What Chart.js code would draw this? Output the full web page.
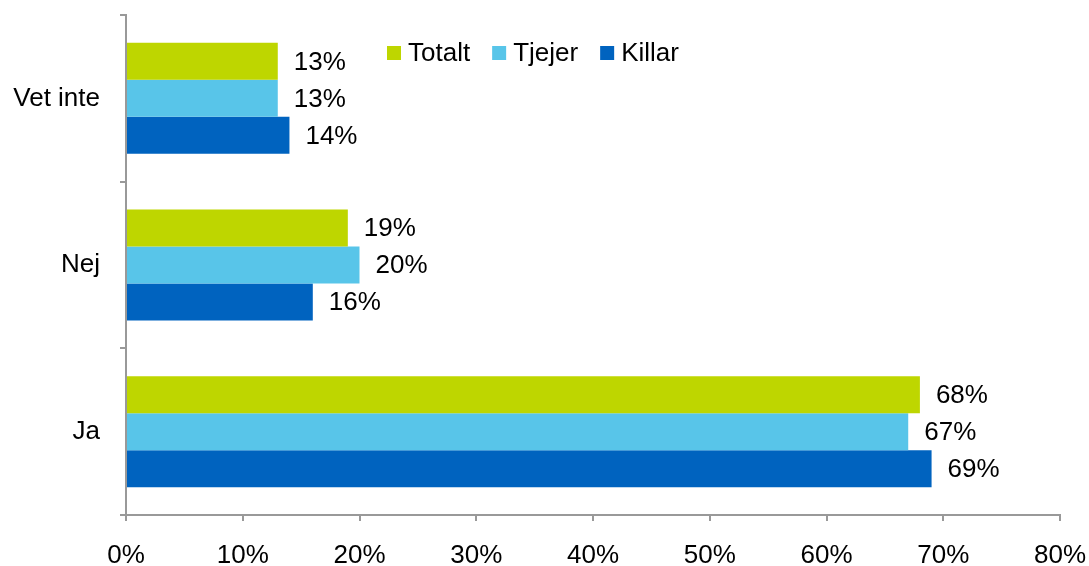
<!DOCTYPE html>
<html>
<head>
<meta charset="utf-8">
<script src="https://cdn.jsdelivr.net/npm/chart.js@4/dist/chart.umd.min.js"></script>
<style>
  html, body { margin: 0; padding: 0; background: #fff; }
  #wrap { width: 1089px; height: 566px; }
</style>
</head>
<body>
<div id="wrap"><canvas id="chart"></canvas></div>
<script>
const categories = ["Vet inte", "Nej", "Ja"];
const totalt = [13, 19, 68];
const tjejer = [13, 20, 67];
const killar = [14, 16, 69];
const xTicks = [0, 10, 20, 30, 40, 50, 60, 70, 80];

const FONT = "'Liberation Sans', Arial, sans-serif";
const axisColor = "#999999";

// value labels to the right of each bar
const valueLabels = {
  id: "valueLabels",
  afterDatasetsDraw(chart) {
    const ctx = chart.ctx;
    ctx.save();
    ctx.font = "26px " + FONT;
    ctx.fillStyle = "#000";
    ctx.textAlign = "left";
    ctx.textBaseline = "middle";
    chart.data.datasets.forEach((ds, i) => {
      chart.getDatasetMeta(i).data.forEach((bar, j) => {
        ctx.fillText(ds.data[j] + "%", bar.x + 16, bar.y + 1);
      });
    });
    ctx.restore();
  }
};

// legend drawn inside the plot area, like the original
const insideLegend = {
  id: "insideLegend",
  afterDraw(chart) {
    const ctx = chart.ctx;
    ctx.save();
    ctx.font = "26px " + FONT;
    ctx.textBaseline = "middle";
    ctx.textAlign = "left";
    let x = 387;
    const y = 53;
    chart.data.datasets.forEach(ds => {
      ctx.fillStyle = ds.backgroundColor;
      ctx.fillRect(x, y - 7, 14, 14);
      ctx.fillStyle = "#000";
      ctx.fillText(ds.label, x + 21, y + 1);
      x += 21 + ctx.measureText(ds.label).width + 22;
    });
    ctx.restore();
  }
};

function noOverflow(scale) {
  scale.paddingTop = 0;
  scale.paddingBottom = 0;
  scale.paddingLeft = 0;
  scale.paddingRight = 0;
}

new Chart(document.getElementById("chart").getContext("2d"), {
  type: "bar",
  data: {
    labels: categories,
    datasets: [
      { label: "Totalt", data: totalt, backgroundColor: "#BED600" },
      { label: "Tjejer", data: tjejer, backgroundColor: "#58C5E9" },
      { label: "Killar", data: killar, backgroundColor: "#0063BF" }
    ]
  },
  options: {
    indexAxis: "y",
    responsive: true,
    maintainAspectRatio: false,
    animation: false,
    layout: { padding: { top: 15, right: 29, left: 0, bottom: 0 } },
    datasets: { bar: { categoryPercentage: 0.666, barPercentage: 1.0 } },
    plugins: {
      legend: { display: false },
      tooltip: { enabled: false }
    },
    scales: {
      x: {
        min: 0,
        max: 80,
        afterBuildTicks(scale) { scale.ticks = xTicks.map(v => ({ value: v })); },
        afterFit(scale) { scale.height = 51; noOverflow(scale); },
        grid: { drawOnChartArea: false, drawTicks: true, tickLength: 6, color: axisColor, lineWidth: 2 },
        border: { display: true, color: axisColor, width: 2 },
        ticks: {
          padding: 19,
          color: "#000",
          font: { family: FONT, size: 26 },
          maxRotation: 0,
          callback: v => v + "%"
        }
      },
      y: {
        afterFit(scale) { scale.width = 126; noOverflow(scale); },
        grid: { drawOnChartArea: false, drawTicks: true, tickLength: 6, color: axisColor, lineWidth: 2, offset: true },
        border: { display: true, color: axisColor, width: 2 },
        ticks: {
          padding: 20,
          color: "#000",
          font: { family: FONT, size: 26 }
        }
      }
    }
  },
  plugins: [valueLabels, insideLegend]
});
</script>
</body>
</html>
